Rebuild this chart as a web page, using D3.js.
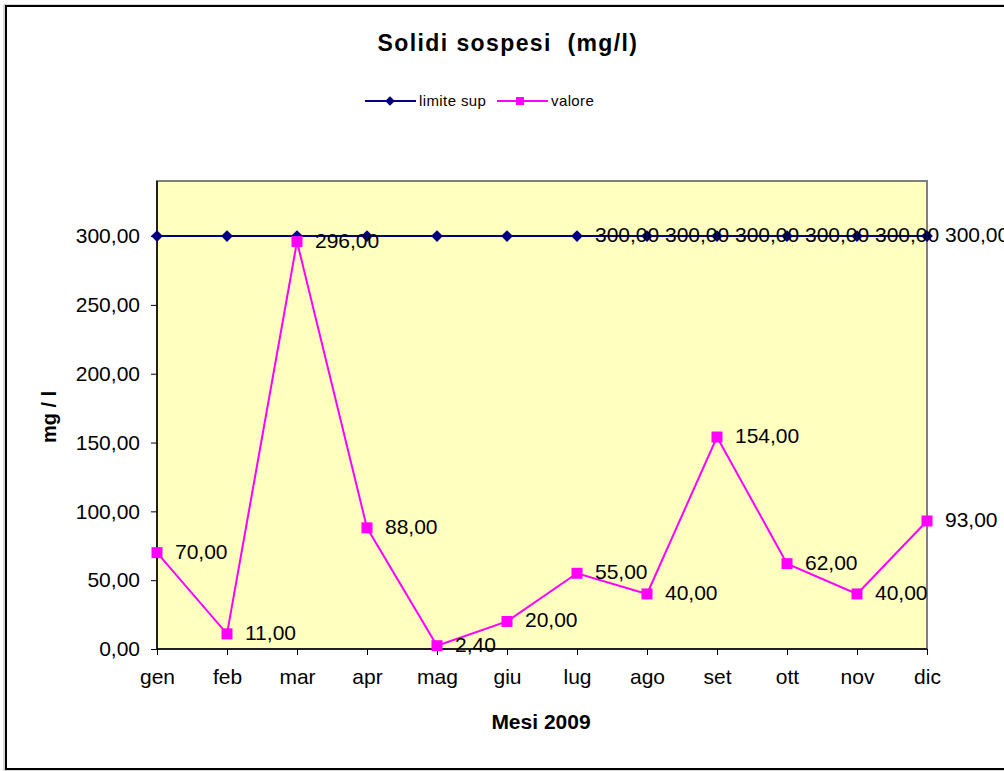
<!DOCTYPE html>
<html>
<head>
<meta charset="utf-8">
<script src="https://cdn.jsdelivr.net/npm/d3@7/dist/d3.min.js"></script>
<style>
  html, body { margin: 0; padding: 0; background: #fff; }
  svg { display: block; font-family: "Liberation Sans", Arial, sans-serif; }
</style>
</head>
<body>
<svg id="chart" width="1004" height="771"></svg>
<script>
// Monthly suspended solids, 2009
const months = ["gen", "feb", "mar", "apr", "mag", "giu", "lug", "ago", "set", "ott", "nov", "dic"];
const limiteSup = [300, 300, 300, 300, 300, 300, 300, 300, 300, 300, 300, 300];
const valore = [70, 11, 296, 88, 2.4, 20, 55, 40, 154, 62, 40, 93];
// months whose upper-limit value is labelled
const limiteLabelled = ["lug", "ago", "set", "ott", "nov", "dic"];
const yTicks = [0, 50, 100, 150, 200, 250, 300];
const yMax = 340;

const svg = d3.select("#chart");
const fmt = v => d3.format(".2f")(v).replace(".", ",");

// outer frame
svg.append("rect").attr("x", 4).attr("y", 5).attr("width", 1010).attr("height", 765)
  .attr("fill", "none").attr("stroke", "#b0b0b0").attr("stroke-width", 1);
svg.append("rect").attr("x", 6).attr("y", 6).attr("width", 1010).attr("height", 763)
  .attr("fill", "#fff").attr("stroke", "#000").attr("stroke-width", 2);

const plot = { left: 157, right: 927, top: 181, bottom: 649 };

const x = d3.scalePoint().domain(months).range([plot.left, plot.right]);
const y = d3.scaleLinear().domain([0, yMax]).range([plot.bottom, plot.top]);

// plot area
svg.append("rect")
  .attr("x", plot.left).attr("y", plot.top)
  .attr("width", plot.right - plot.left).attr("height", plot.bottom - plot.top)
  .attr("fill", "#FFFFC0").attr("stroke", "#808080").attr("stroke-width", 2);

// title
svg.append("text").attr("x", 508).attr("y", 51).attr("text-anchor", "middle")
  .attr("font-size", 23).attr("font-weight", "bold").attr("fill", "#000")
  .attr("letter-spacing", 1.4)
  .attr("xml:space", "preserve").text("Solidi sospesi  (mg/l)");

// legend
const legend = svg.append("g").attr("font-size", 15).attr("letter-spacing", 0.4);
const lg1 = legend.append("g");
lg1.append("line").attr("x1", 365).attr("x2", 416).attr("y1", 101).attr("y2", 101)
  .attr("stroke", "#000080").attr("stroke-width", 2);
lg1.append("path").attr("d", d3.symbol(d3.symbolDiamond2, 60)())
  .attr("transform", "translate(390,101)").attr("fill", "#000080");
lg1.append("text").attr("x", 419).attr("y", 106).text("limite sup");
const lg2 = legend.append("g");
lg2.append("line").attr("x1", 497).attr("x2", 548).attr("y1", 101).attr("y2", 101)
  .attr("stroke", "#FF00FF").attr("stroke-width", 2);
lg2.append("rect").attr("x", 516).attr("y", 97).attr("width", 8).attr("height", 8)
  .attr("fill", "#FF00FF");
lg2.append("text").attr("x", 551).attr("y", 106).text("valore");

// y axis
const yAxis = svg.append("g").attr("transform", `translate(${plot.left},0)`)
  .call(d3.axisLeft(y).tickValues(yTicks).tickFormat(fmt).tickSize(6).tickPadding(11));
yAxis.select(".domain").attr("stroke", "#000").attr("stroke-width", 1.5)
  .attr("d", `M0,${plot.top}V${plot.bottom}`);
yAxis.selectAll(".tick line").attr("stroke", "#000");
yAxis.selectAll(".tick text").attr("font-size", 21).attr("fill", "#000")
  .attr("font-family", "'Liberation Sans', Arial, sans-serif");

// x axis
const xAxis = svg.append("g").attr("transform", `translate(0,${plot.bottom})`)
  .call(d3.axisBottom(x).tickSize(6).tickPadding(14));
xAxis.select(".domain").attr("stroke", "#000").attr("stroke-width", 1.5)
  .attr("d", `M${plot.left},0H${plot.right}`);
xAxis.selectAll(".tick line").attr("stroke", "#000");
xAxis.selectAll(".tick text").attr("font-size", 21).attr("fill", "#000")
  .attr("font-family", "'Liberation Sans', Arial, sans-serif");

// axis titles
svg.append("text").attr("x", 541).attr("y", 729).attr("text-anchor", "middle")
  .attr("font-size", 21).attr("font-weight", "bold").text("Mesi 2009");
svg.append("text").attr("transform", "translate(56,417) rotate(-90)")
  .attr("text-anchor", "middle").attr("font-size", 20).attr("font-weight", "bold")
  .text("mg / l");

const line = d3.line().x((d, i) => x(months[i])).y(d => y(d));

// upper limit series
svg.append("path").datum(limiteSup).attr("d", line)
  .attr("fill", "none").attr("stroke", "#000080").attr("stroke-width", 2);
svg.selectAll(".lim").data(limiteSup).join("path").attr("class", "lim")
  .attr("d", d3.symbol(d3.symbolDiamond2, 88)())
  .attr("transform", (d, i) => `translate(${x(months[i])},${y(d)})`)
  .attr("fill", "#000080");

// measured series
svg.append("path").datum(valore).attr("d", line)
  .attr("fill", "none").attr("stroke", "#FF00FF").attr("stroke-width", 2);
svg.selectAll(".val").data(valore).join("rect").attr("class", "val")
  .attr("x", (d, i) => x(months[i]) - 5.5).attr("y", d => y(d) - 5.5)
  .attr("width", 11).attr("height", 11).attr("fill", "#FF00FF");

// data labels
const labels = svg.append("g").attr("font-size", 21).attr("fill", "#000");
labels.selectAll(".vl").data(valore).join("text").attr("class", "vl")
  .attr("x", (d, i) => x(months[i]) + 18).attr("y", d => y(d) + 6)
  .text(d => fmt(d));
labels.selectAll(".ll").data(limiteSup.map((d, i) => ({ m: months[i], v: d }))
    .filter(d => limiteLabelled.includes(d.m)))
  .join("text").attr("class", "ll")
  .attr("x", d => x(d.m) + 18).attr("y", d => y(d.v) + 6)
  .text(d => fmt(d.v));
</script>
</body>
</html>
